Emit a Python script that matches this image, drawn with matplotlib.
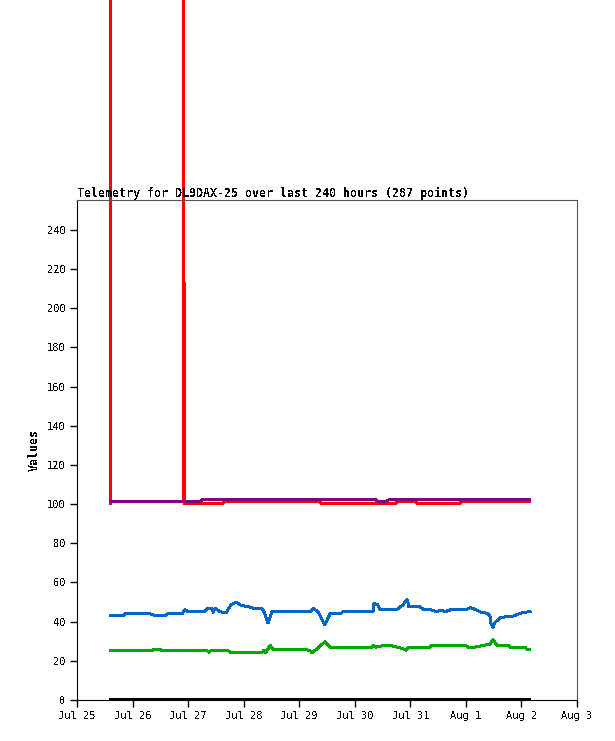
import pandas as pd
import matplotlib
matplotlib.use('Agg')
import matplotlib.pyplot as plt
import matplotlib.dates as mdates
from matplotlib.ticker import FuncFormatter, MultipleLocator

# hours since Jul 25 00:00
base = pd.Timestamp('2024-07-25 00:00')

red_h = [14.3, 14.6, 14.6, 14.6, 46.1, 46.1, 46.1, 46.5, 46.5, 62.6, 63.5, 105.0, 105.8,
         137.4, 138.2, 146.0, 147.3, 165.0, 165.9, 195.7]
red_v = [100.4, 100.4, 1000, 101.2, 101.2, 1000, 213, 213, 100.2, 100.2, 101.2, 101.2, 100.2,
         100.2, 101.2, 101.2, 100.2, 100.2, 101.2, 101.2]

purple_h = [14.3, 53.1, 54.0, 129.2, 130.0, 133.1, 134.0, 134.8, 195.7]
purple_v = [101.3, 101.3, 102.2, 102.2, 101.4, 101.4, 101.8, 102.2, 102.2]

blue_h = [14.3, 19.9, 20.7, 31.5, 33.7, 38.0, 39.3, 45.4, 46.7, 48.0, 55.3, 56.2,
          58.3, 58.8, 59.6, 61.3, 63.1, 64.4, 66.5, 68.7, 70.8, 74.7, 76.0, 79.9,
          80.8, 82.5, 84.2, 87.7, 100.7, 102.0, 104.1, 107.1, 109.3, 114.0, 114.9,
          127.9, 128.3, 130.0, 130.9, 138.2, 140.8, 142.6, 143.4, 148.2, 149.5,
          152.5, 155.5, 157.2, 159.0, 162.0, 168.5, 169.8, 171.9, 174.1, 177.6,
          178.4, 178.8, 179.7, 180.6, 182.7, 184.9, 187.9, 189.2, 191.4, 193.5, 195.7]
blue_v = [43.0, 43.0, 44.1, 44.1, 43.0, 43.0, 44.1, 44.1, 46.0, 45.1, 45.1, 46.8,
          46.8, 44.8, 46.8, 45.5, 44.5, 44.5, 48.5, 50.0, 48.3, 47.5, 46.8, 46.8,
          45.0, 39.3, 45.0, 45.1, 45.1, 46.8, 45.0, 38.3, 44.1, 44.1, 45.1,
          45.1, 49.4, 48.5, 46.3, 46.3, 48.5, 51.4, 47.6, 47.6, 46.3,
          46.3, 45.0, 46.0, 45.1, 46.3, 46.3, 47.2, 46.3, 45.0, 44.2,
          42.7, 39.3, 37.2, 39.6, 41.9, 42.4, 42.4, 43.2, 44.3, 44.8, 45.1]

green_h = [14.3, 32.4, 33.3, 35.9, 36.7, 56.2, 57.0, 57.9, 65.2, 66.5, 79.9, 80.8,
           81.6, 83.4, 84.7, 98.5, 100.7, 101.5, 104.1, 107.1, 109.3, 127.4, 127.9,
           129.2, 132.2, 135.2, 138.2, 141.3, 142.1, 143.4, 152.5, 153.4, 167.6,
           168.9, 171.9, 174.1, 177.1, 178.4, 179.7, 181.4, 186.2, 187.1, 193.5,
           194.4, 195.7]
green_v = [25.2, 25.2, 25.9, 25.9, 25.2, 25.2, 24.4, 25.2, 25.2, 24.2, 24.2, 25.5,
           24.2, 27.9, 25.9, 25.9, 25.2, 24.2, 26.5, 29.8, 27.0, 27.0, 28.0,
           27.0, 27.8, 28.0, 27.0, 26.0, 25.5, 27.0, 27.0, 28.0, 28.0,
           27.0, 27.0, 27.5, 28.3, 28.3, 31.0, 28.0, 28.0, 27.0, 27.0,
           25.8, 25.8]

black_h = [14.3, 195.7]
black_v = [0.4, 0.4]

plt.rcParams['text.antialiased'] = False
mono = 'DejaVu Sans Mono'


def to_time(hours):
    return base + pd.to_timedelta(hours, unit='h')


fig = plt.figure(figsize=(6.15, 7.41), dpi=100)
ax = fig.add_axes([77 / 615, 41 / 741, 500 / 615, 500 / 741])

lw = 1.4
ax.plot(to_time(black_h), black_v, color='#000000', lw=lw, antialiased=False)
ax.plot(to_time(green_h), green_v, color='#00aa00', lw=lw, antialiased=False)
ax.plot(to_time(blue_h), blue_v, color='#0066cc', lw=lw, antialiased=False)
ax.plot(to_time(red_h), red_v, color='#ff0000', lw=lw, antialiased=False, clip_on=False)
ax.plot(to_time(purple_h), purple_v, color='#800080', lw=lw, antialiased=False)

ax.set_ylim(0, 255.3)
ax.set_xlim(base, base + pd.Timedelta(days=9))
ax.yaxis.set_major_locator(MultipleLocator(20))
ax.xaxis.set_major_locator(mdates.DayLocator())
ax.xaxis.set_major_formatter(FuncFormatter(
    lambda x, pos: mdates.num2date(x).strftime('%b ') + str(mdates.num2date(x).day)))

for s in ['top', 'right']:
    ax.spines[s].set_color('#555555')
for s in ['left', 'bottom']:
    ax.spines[s].set_color('#000000')

ax.tick_params(direction='out', length=5, width=1, labelsize=7.5, pad=3)
for lab in ax.get_xticklabels() + ax.get_yticklabels():
    lab.set_family(mono)

ax.set_ylabel('Values', family=mono, fontweight='bold', fontsize=8.4, labelpad=5)
ax.set_title('Telemetry for DL9DAX-25 over last 240 hours (287 points)',
             family=mono, fontweight='bold', fontsize=8.4, loc='left', pad=2)

fig.savefig('out.png', dpi=100)
